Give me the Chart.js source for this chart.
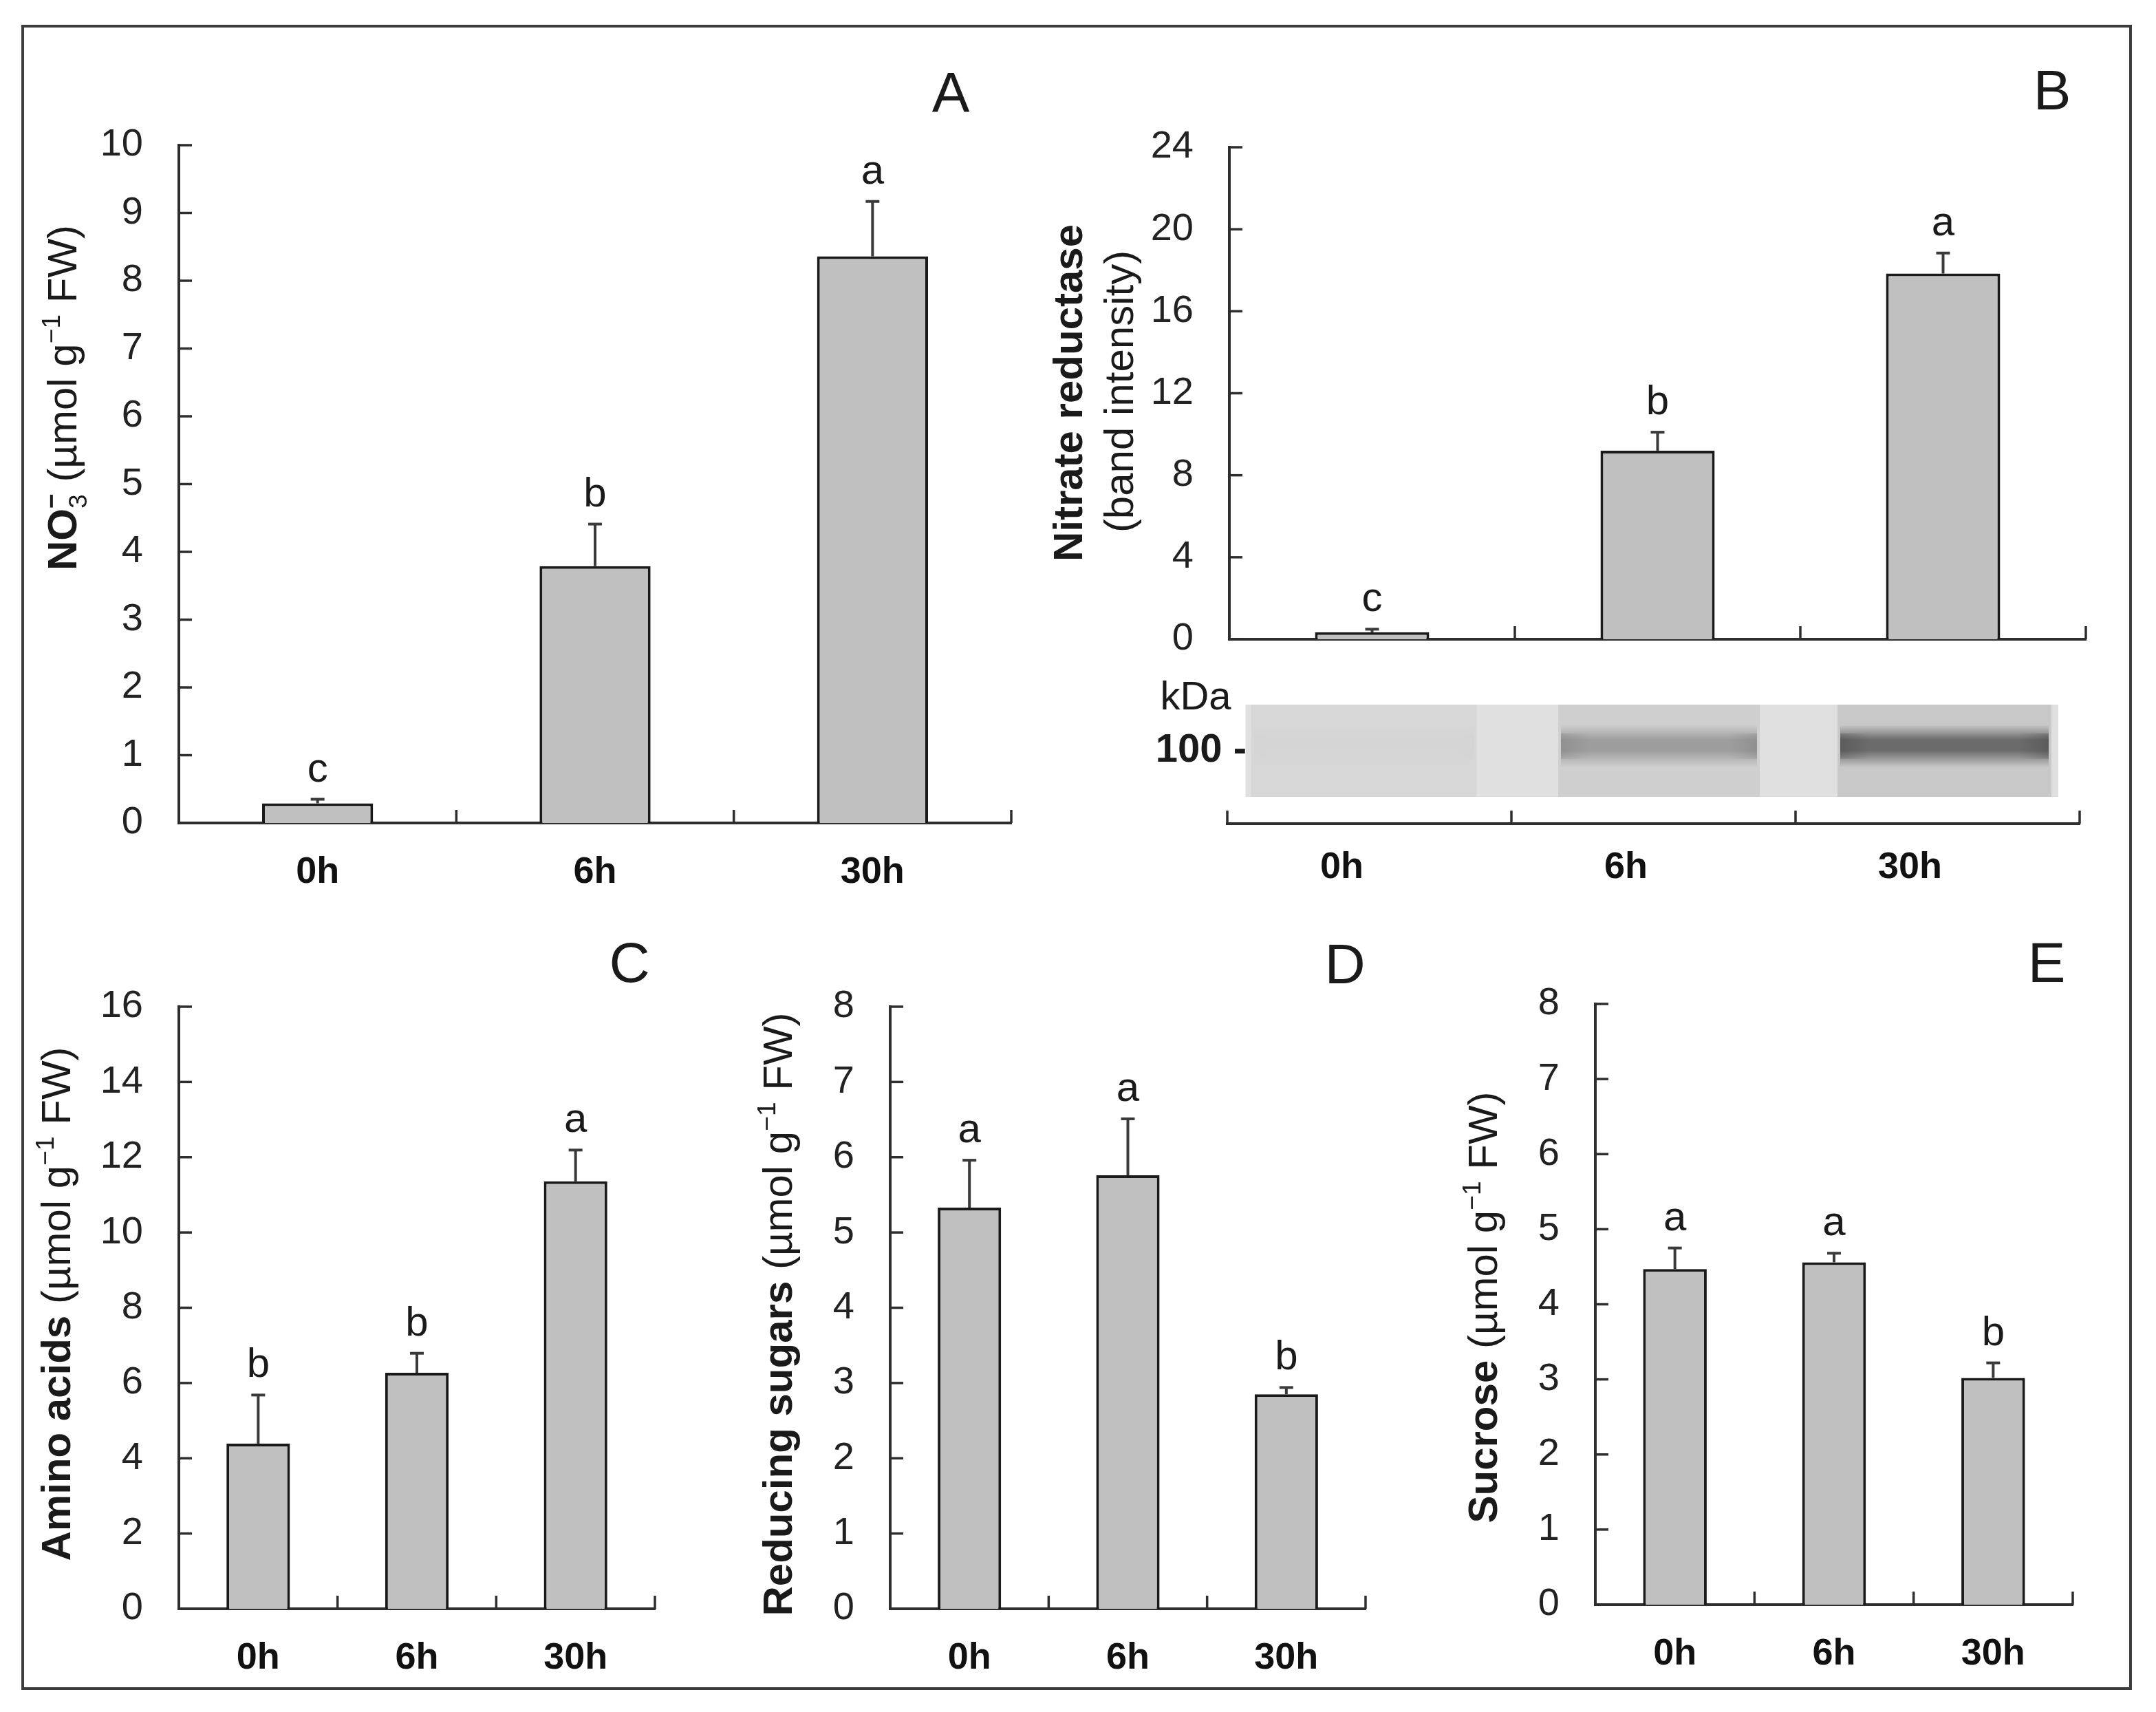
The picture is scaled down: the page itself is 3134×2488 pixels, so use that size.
<!DOCTYPE html>
<html><head><meta charset="utf-8">
<script src="https://cdn.jsdelivr.net/npm/chart.js@4.4.1/dist/chart.umd.min.js"></script>
<style>
html,body{margin:0;padding:0;background:#fff;}
body{width:3134px;height:2488px;position:relative;overflow:hidden;}
#frame{position:absolute;left:31px;top:36px;width:3068px;height:2420px;border:4px solid #3c3c3c;box-sizing:border-box;}
.box{position:absolute;}
canvas{display:block;}
</style></head><body>
<div id="frame"></div>
<script>
// ---------------- data ----------------
const timeLabels = ['0h', '6h', '30h'];

const nitrate = [0.29, 3.79, 8.36];
const nitrateSE = [0.06, 0.62, 0.81];
const nitrateLetters = ['c', 'b', 'a'];
const nitrateTicks = [0, 1, 2, 3, 4, 5, 6, 7, 8, 9, 10];

const reductase = [0.34, 9.20, 17.84];
const reductaseSE = [0.15, 0.90, 1.00];
const reductaseLetters = ['c', 'b', 'a'];
const reductaseTicks = [0, 4, 8, 12, 16, 20, 24];

const aminoAcids = [4.39, 6.27, 11.36];
const aminoAcidsSE = [1.29, 0.52, 0.83];
const aminoLetters = ['b', 'b', 'a'];
const aminoTicks = [0, 2, 4, 6, 8, 10, 12, 14, 16];

const reducingSugars = [5.33, 5.76, 2.85];
const reducingSugarsSE = [0.63, 0.75, 0.09];
const sugarLetters = ['a', 'a', 'b'];
const sugarTicks = [0, 1, 2, 3, 4, 5, 6, 7, 8];

const sucrose = [4.47, 4.56, 3.02];
const sucroseSE = [0.28, 0.12, 0.20];
const sucroseLetters = ['a', 'a', 'b'];
const sucroseTicks = [0, 1, 2, 3, 4, 5, 6, 7, 8];

// ---------------- helpers ----------------
const FONT = '"Liberation Sans", Arial, Helvetica, sans-serif';
const INK = '#1a1a1a';
const AXIS = '#2e2e2e';

function line(ctx, x1, y1, x2, y2) {
  ctx.beginPath(); ctx.moveTo(x1, y1); ctx.lineTo(x2, y2); ctx.stroke();
}

function drawRich(ctx, segs, cx, cy, fs, rotate) {
  ctx.save();
  ctx.translate(cx, cy);
  if (rotate) ctx.rotate(-Math.PI / 2);
  const small = 0.62;
  const items = [];
  let total = 0, prevW = 0;
  for (const s of segs) {
    const size = (s.sub || s.sup) ? fs * small : fs;
    const f = (s.bold ? 'bold ' : '') + size + 'px ' + FONT;
    ctx.font = f;
    const w = ctx.measureText(s.t).width;
    const dx = s.stack ? -prevW : 0;
    items.push({ s, f, w, dx });
    total += w + dx;
    prevW = w;
  }
  let x = -total / 2;
  const base = 0.358 * fs;
  ctx.textBaseline = 'alphabetic';
  ctx.textAlign = 'left';
  ctx.fillStyle = INK;
  for (const it of items) {
    x += it.dx;
    ctx.font = it.f;
    let y = base;
    if (it.s.sub) y += 0.24 * fs;
    if (it.s.sup) y -= 0.40 * fs;
    ctx.fillText(it.s.t, x, y);
    x += it.w;
  }
  ctx.restore();
}

function drawBlot(chart, cfg) {
  const ctx = chart.ctx, xs = chart.scales.x, ca = chart.chartArea;
  const top = ca.top, h = cfg.blotHeight;
  const lanes = timeLabels.map((_, i) => {
    const c = xs.getPixelForValue(i) + cfg.laneShift[i];
    return { l: c - cfg.laneWidth[i] / 2, r: c + cfg.laneWidth[i] / 2 };
  });
  const L = lanes[0].l - 8, R = lanes[lanes.length - 1].r + 10;
  ctx.save();
  ctx.fillStyle = '#e0e0e0';
  ctx.fillRect(L, top, R - L, h);
  const maxV = Math.max(...reductase);
  lanes.forEach((ln, i) => {
    const f = reductase[i] / maxV;
    const g = Math.round(215 - 15 * f);
    ctx.fillStyle = 'rgb(' + g + ',' + g + ',' + g + ')';
    ctx.fillRect(ln.l, top, ln.r - ln.l, h);
    const bc = top + h * 0.45, bh = h * 0.46;
    const a = (0.58 * f).toFixed(3);
    const grad = ctx.createLinearGradient(0, bc - bh / 2, 0, bc + bh / 2);
    grad.addColorStop(0, 'rgba(40,40,40,0)');
    grad.addColorStop(0.35, 'rgba(40,40,40,' + a + ')');
    grad.addColorStop(0.6, 'rgba(40,40,40,' + a + ')');
    grad.addColorStop(1, 'rgba(40,40,40,0)');
    ctx.fillStyle = grad;
    ctx.fillRect(ln.l + 4, bc - bh / 2, ln.r - ln.l - 8, bh);
    const a2 = (0.22 * f).toFixed(3);
    const gl = ctx.createLinearGradient(ln.l, 0, ln.r, 0);
    gl.addColorStop(0, 'rgba(30,30,30,' + a2 + ')');
    gl.addColorStop(0.15, 'rgba(30,30,30,0)');
    gl.addColorStop(0.85, 'rgba(30,30,30,0)');
    gl.addColorStop(1, 'rgba(30,30,30,' + a2 + ')');
    ctx.fillStyle = gl;
    ctx.fillRect(ln.l + 4, bc - bh * 0.3, ln.r - ln.l - 8, bh * 0.6);
  });
  ctx.restore();
}

function makePlugin(cfg) {
  return {
    id: 'panel',
    beforeDatasetsDraw(chart) {
      if (cfg.blot) drawBlot(chart, cfg.blot);
    },
    afterDatasetsDraw(chart) {
      const ctx = chart.ctx, ca = chart.chartArea, xs = chart.scales.x, ys = chart.scales.y;
      ctx.save();
      ctx.strokeStyle = AXIS;
      ctx.lineWidth = 3.5;
      ctx.lineCap = 'butt';
      if (cfg.yTicks) {
        for (const v of cfg.yTicks) {
          const y = ys.getPixelForValue(v);
          line(ctx, ca.left, y, ca.left + 19, y);
        }
      }
      const n = chart.data.labels.length;
      const bounds = [];
      if (cfg.leftTick) bounds.push(ca.left);
      for (let i = 0; i < n - 1; i++) bounds.push((xs.getPixelForValue(i) + xs.getPixelForValue(i + 1)) / 2);
      bounds.push(ca.right);
      for (const b of bounds) line(ctx, b, ca.bottom, b, ca.bottom - 19);

      if (cfg.err) {
        const meta = chart.getDatasetMeta(0);
        const vals = chart.data.datasets[0].data;
        ctx.strokeStyle = '#3a3a3a';
        ctx.lineWidth = 4;
        ctx.fillStyle = INK;
        ctx.font = '60px ' + FONT;
        ctx.textAlign = 'center';
        ctx.textBaseline = 'alphabetic';
        meta.data.forEach((bar, i) => {
          const yTop = ys.getPixelForValue(vals[i] + cfg.err[i]);
          line(ctx, bar.x, bar.y, bar.x, yTop);
          line(ctx, bar.x - 10, yTop, bar.x + 10, yTop);
          ctx.fillText(cfg.letters[i], bar.x, yTop - 26);
        });
      }
      for (const t of (cfg.texts || [])) {
        const x = t.x - cfg.box.x0, y = t.y - cfg.box.y0;
        if (t.rich) {
          drawRich(ctx, t.rich, x, y, t.size, t.rotate);
        } else {
          ctx.fillStyle = INK;
          ctx.font = (t.bold ? 'bold ' : '') + t.size + 'px ' + FONT;
          ctx.textAlign = t.align || 'center';
          ctx.textBaseline = 'alphabetic';
          ctx.fillText(t.t, x, y + 0.358 * t.size);
        }
      }
      ctx.restore();
    }
  };
}

function makePanel(cfg) {
  const box = cfg.box, plot = cfg.plot;
  const div = document.createElement('div');
  div.className = 'box';
  div.style.left = box.x0 + 'px';
  div.style.top = box.y0 + 'px';
  const w = box.x1 - box.x0, h = box.y1 - box.y0;
  div.style.width = w + 'px';
  div.style.height = h + 'px';
  const canvas = document.createElement('canvas');
  canvas.width = w; canvas.height = h;
  canvas.style.width = w + 'px'; canvas.style.height = h + 'px';
  div.appendChild(canvas);
  document.body.appendChild(div);

  const datasets = cfg.values ? [{
    data: cfg.values,
    backgroundColor: '#c0c0c0',
    borderColor: '#1a1a1a',
    borderWidth: 4,
    borderSkipped: 'start',
    categoryPercentage: 1.0,
    barPercentage: 0.4
  }] : [];

  const yScale = cfg.yTicks ? {
    min: 0,
    max: cfg.yTicks[cfg.yTicks.length - 1],
    grid: { display: false, drawTicks: false },
    border: { display: true, color: AXIS, width: 4 },
    ticks: { font: { family: FONT, size: 56 }, color: '#222', padding: 52, autoSkip: false },
    afterBuildTicks: s => { s.ticks = cfg.yTicks.map(v => ({ value: v })); },
    afterFit: s => { s.width = plot.l - box.x0; }
  } : { display: false, min: 0, max: 1 };

  return new Chart(canvas, {
    type: 'bar',
    data: { labels: timeLabels, datasets },
    options: {
      responsive: false,
      animation: false,
      devicePixelRatio: 1,
      layout: { padding: { left: cfg.yTicks ? 0 : plot.l - box.x0, top: plot.t - box.y0, right: box.x1 - plot.r, bottom: 0 } },
      plugins: { legend: { display: false }, tooltip: { enabled: false }, title: { display: false } },
      scales: {
        x: {
          grid: { display: false, drawTicks: false },
          border: { display: true, color: AXIS, width: 4 },
          ticks: {
            display: cfg.showX !== false,
            font: { family: FONT, size: 54, weight: 'bold' },
            color: '#111',
            padding: cfg.xPad || 40,
            labelOffset: cfg.labelOffset || 0
          },
          afterFit: s => { s.height = box.y1 - plot.b; }
        },
        y: yScale
      }
    },
    plugins: [makePlugin(cfg)]
  });
}

const unitTail = [
  { t: ' (\u00b5mol g' }, { t: '\u22121', sup: true }, { t: ' FW)' }
];

// Panel A
makePanel({
  box: { x0: 40, y0: 60, x1: 1560, y1: 1330 },
  plot: { l: 260, t: 211, r: 1470, b: 1196 },
  values: nitrate, err: nitrateSE, letters: nitrateLetters, yTicks: nitrateTicks,
  texts: [
    { t: 'A', x: 1382, y: 133, size: 82 },
    { rich: [{ t: 'NO', bold: true }, { t: '3', sub: true }, { t: '\u2212', sup: true, stack: true, bold: true }].concat(unitTail),
      x: 90, y: 578, size: 60, rotate: true }
  ]
});

// Panel B (bar part)
makePanel({
  box: { x0: 1500, y0: 60, x1: 3080, y1: 1040 },
  plot: { l: 1787, t: 214, r: 3032, b: 929 },
  values: reductase, err: reductaseSE, letters: reductaseLetters, yTicks: reductaseTicks,
  showX: false,
  texts: [
    { t: 'B', x: 2983, y: 130, size: 82 },
    { rich: [{ t: 'Nitrate reductase', bold: true }], x: 1552, y: 571, size: 60, rotate: true },
    { rich: [{ t: '(band intensity)' }], x: 1626, y: 569, size: 60, rotate: true }
  ]
});

// Panel B (immunoblot + time axis)
makePanel({
  box: { x0: 1600, y0: 960, x1: 3080, y1: 1330 },
  plot: { l: 1784, t: 1024, r: 3023, b: 1197 },
  leftTick: true,
  xPad: 32,
  labelOffset: -40,
  blot: { blotHeight: 134, laneWidth: [328, 293, 311], laneShift: [-8, 8, 10] },
  texts: [
    { t: 'kDa', x: 1738, y: 1010, size: 58 },
    { t: '100 -', x: 1812, y: 1086, size: 58, bold: true, align: 'right' }
  ]
});

// Panel C
makePanel({
  box: { x0: 40, y0: 1330, x1: 1020, y1: 2450 },
  plot: { l: 260, t: 1463, r: 952, b: 2338 },
  values: aminoAcids, err: aminoAcidsSE, letters: aminoLetters, yTicks: aminoTicks,
  texts: [
    { t: 'C', x: 915, y: 1398, size: 82 },
    { rich: [{ t: 'Amino acids', bold: true }].concat(unitTail), x: 81, y: 1895, size: 60, rotate: true }
  ]
});

// Panel D
makePanel({
  box: { x0: 1070, y0: 1330, x1: 2050, y1: 2450 },
  plot: { l: 1294, t: 1463, r: 1985, b: 2338 },
  values: reducingSugars, err: reducingSugarsSE, letters: sugarLetters, yTicks: sugarTicks,
  texts: [
    { t: 'D', x: 1955, y: 1400, size: 82 },
    { rich: [{ t: 'Reducing sugars', bold: true }].concat(unitTail), x: 1130, y: 1910, size: 60, rotate: true }
  ]
});

// Panel E
makePanel({
  box: { x0: 2090, y0: 1330, x1: 3080, y1: 2450 },
  plot: { l: 2319, t: 1459, r: 3013, b: 2332 },
  values: sucrose, err: sucroseSE, letters: sucroseLetters, yTicks: sucroseTicks,
  texts: [
    { t: 'E', x: 2975, y: 1398, size: 82 },
    { rich: [{ t: 'Sucrose', bold: true }].concat(unitTail), x: 2155, y: 1900, size: 60, rotate: true }
  ]
});
</script>
</body></html>
